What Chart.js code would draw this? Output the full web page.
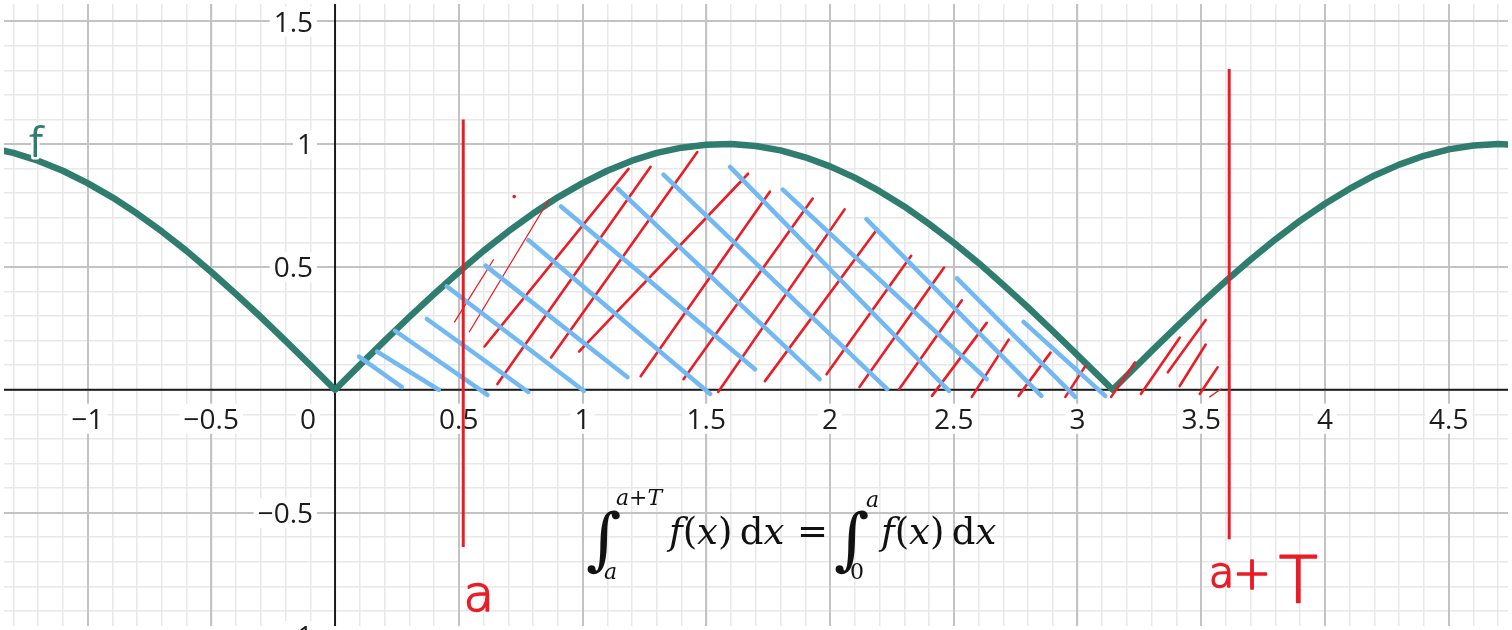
<!DOCTYPE html>
<html>
<head>
<meta charset="utf-8">
<script src="https://cdn.jsdelivr.net/npm/chart.js@4.4.0/dist/chart.umd.min.js"></script>
<style>
  html, body { margin: 0; padding: 0; background: #fff; }
  #wrap { width: 1512px; height: 630px; }
</style>
</head>
<body>
<div id="wrap"><canvas id="graph" width="1512" height="630"></canvas></div>
<script>
// Visible window (graph units)
const xMin = -1.3376, xMax = 4.7395;
const yMin = -0.9614, yMax = 1.5697;

// Tick labels
const xTicks = [-1, -0.5, 0.5, 1, 1.5, 2, 2.5, 3, 3.5, 4, 4.5];
const xTickLabels = ['−1', '−0.5', '0.5', '1', '1.5', '2', '2.5', '3', '3.5', '4', '4.5'];
const yTicks = [1.5, 1, 0.5, -0.5, -1];
const yTickLabels = ['1.5', '1', '0.5', '−0.5', '−1'];

// f
const curveX = [-1.4, -1.3, -1.2, -1.1, -1.0, -0.9, -0.8, -0.7, -0.6, -0.5, -0.4, -0.3, -0.2, -0.1,
  0, 0.1, 0.2, 0.3, 0.4, 0.5, 0.6, 0.7, 0.8, 0.9, 1.0, 1.1, 1.2, 1.3, 1.4, 1.5, 1.6, 1.7, 1.8, 1.9,
  2.0, 2.1, 2.2, 2.3, 2.4, 2.5, 2.6, 2.7, 2.8, 2.9, 3.0, 3.1, 3.142, 3.2, 3.3, 3.4, 3.5, 3.6, 3.7,
  3.8, 3.9, 4.0, 4.1, 4.2, 4.3, 4.4, 4.5, 4.6, 4.7, 4.8];
const curveY = [0.985, 0.964, 0.932, 0.891, 0.841, 0.783, 0.717, 0.644, 0.565, 0.479, 0.389, 0.296, 0.199, 0.100,
  0, 0.100, 0.199, 0.296, 0.389, 0.479, 0.565, 0.644, 0.717, 0.783, 0.841, 0.891, 0.932, 0.964, 0.985, 0.997, 1.000, 0.992, 0.974, 0.946,
  0.909, 0.863, 0.808, 0.746, 0.675, 0.598, 0.516, 0.427, 0.335, 0.239, 0.141, 0.042, 0, 0.058, 0.158, 0.256, 0.351, 0.443, 0.530,
  0.612, 0.688, 0.757, 0.818, 0.872, 0.916, 0.952, 0.978, 0.994, 1.000, 0.996];

// Hand-drawn hatching: [x1, y1, x2, y2]
const blueStrokes = [
  [0.097, 0.135, 0.270, 0.011],
  [0.170, 0.155, 0.419, 0.000],
  [0.242, 0.240, 0.616, -0.021],
  [0.371, 0.288, 0.781, -0.009],
  [0.451, 0.421, 1.006, -0.005],
  [0.608, 0.505, 1.182, 0.051],
  [0.781, 0.609, 1.516, -0.017],
  [0.913, 0.746, 1.697, 0.083],
  [1.142, 0.818, 1.958, 0.043],
  [1.327, 0.875, 2.231, 0.003],
  [1.596, 0.907, 2.481, -0.005],
  [1.809, 0.814, 2.633, 0.043],
  [2.147, 0.694, 2.854, -0.025],
  [2.513, 0.453, 2.991, -0.029],
  [2.782, 0.276, 3.112, -0.025]
];
const redStrokes = [
  [0.483, 0.276, 0.640, 0.529],
  [0.543, 0.236, 0.865, 0.774],
  [0.604, 0.176, 1.186, 0.899],
  [0.656, 0.023, 1.275, 0.907],
  [0.873, 0.131, 1.464, 0.967],
  [0.986, 0.155, 1.669, 0.879],
  [1.235, 0.055, 1.757, 0.806],
  [1.408, 0.043, 1.930, 0.778],
  [1.548, -0.009, 2.059, 0.734],
  [1.737, 0.035, 2.191, 0.654],
  [1.986, 0.063, 2.328, 0.545],
  [2.119, 0.011, 2.461, 0.497],
  [2.280, 0.003, 2.533, 0.364],
  [2.412, -0.025, 2.633, 0.272],
  [2.573, -0.029, 2.722, 0.204],
  [2.762, -0.025, 2.891, 0.151],
  [2.951, -0.029, 3.031, 0.095],
  [3.136, -0.029, 3.232, 0.111],
  [3.256, -0.017, 3.413, 0.212],
  [3.365, 0.071, 3.518, 0.284],
  [3.413, 0.015, 3.518, 0.184],
  [3.494, -0.017, 3.566, 0.091],
  [3.534, -0.029, 3.580, 0.003]
];
const redDot = [0.724, 0.786];

// Marker lines x = a and x = a + T: [x, yBottom, yTop]
const markerLines = [
  [0.518, -0.640, 1.100],
  [3.613, -0.608, 1.305]
];

// Text anchors (graph units)
const fLabelAt = [-1.237, 0.947];
const aLabelAt = [0.519, -0.901];
const aTLabelAt = [3.530, -0.801];
const formulaAt = [1.022, -0.628];

const TEAL = '#2e7d6e';
const RED = '#ea1d26';
const BLUE = '#72b8f2';

function segment(s) {
  return [{ x: s[0], y: s[1] }, { x: s[2], y: s[3] }];
}

const datasets = [];

// Curve f
datasets.push({
  data: curveX.map((x, i) => ({ x, y: curveY[i] })),
  showLine: true, borderColor: TEAL, borderWidth: 6.5, pointRadius: 0,
  borderCapStyle: 'round', borderJoinStyle: 'round', order: 4
});

// Red hatching
redStrokes.forEach((s, i) => {
  const thin = i === 0 || i === 1 || i === redStrokes.length - 1;
  datasets.push({
    data: segment(s), showLine: true, borderColor: RED, borderWidth: thin ? 1.3 : 2.6,
    pointRadius: 0, borderCapStyle: 'round', order: 3
  });
});
datasets.push({
  data: [{ x: redDot[0], y: redDot[1] }], showLine: false,
  pointRadius: 1.8, backgroundColor: RED, borderWidth: 0, order: 3
});

// Blue hatching
blueStrokes.forEach(s => {
  datasets.push({
    data: segment(s), showLine: true, borderColor: BLUE, borderWidth: 4.5,
    pointRadius: 0, borderCapStyle: 'round', order: 2
  });
});

// Red markers a and a+T
markerLines.forEach(m => {
  datasets.push({
    data: [{ x: m[0], y: m[1] }, { x: m[0], y: m[2] }], showLine: true,
    borderColor: RED, borderWidth: 3, pointRadius: 0, order: 1
  });
});

// Axes + tick labels, under the objects
const axesPlugin = {
  id: 'axesPlugin',
  beforeDatasetsDraw(chart) {
    const { ctx, chartArea: a, scales: { x, y } } = chart;
    const x0 = x.getPixelForValue(0), y0 = y.getPixelForValue(0);
    ctx.save();
    ctx.strokeStyle = '#1c1c1c';
    ctx.lineWidth = 2;
    ctx.beginPath();
    ctx.moveTo(a.left, y0); ctx.lineTo(a.right, y0);
    ctx.moveTo(x0, a.top); ctx.lineTo(x0, a.bottom);
    ctx.stroke();

    ctx.font = '28px "Open Sans"';
    ctx.textBaseline = 'alphabetic';
    const label = (text, px, base, align) => {
      const w = ctx.measureText(text).width;
      const left = align === 'right' ? px - w : px - w / 2;
      ctx.fillStyle = '#fff';
      ctx.fillRect(left - 4, base - 25, w + 8, 30);
      ctx.fillStyle = '#1c1c1c';
      ctx.textAlign = align;
      ctx.fillText(text, px, base);
    };
    xTicks.forEach((v, i) => label(xTickLabels[i], x.getPixelForValue(v), y0 + 39, 'center'));
    yTicks.forEach((v, i) => label(yTickLabels[i], x0 - 22, y.getPixelForValue(v) + 10.5, 'right'));
    label('0', x0 - 19, y0 + 39, 'right');
    ctx.restore();
  },
  afterDatasetsDraw(chart) {
    const { ctx, scales: { x, y } } = chart;
    ctx.save();
    ctx.textAlign = 'left';
    ctx.textBaseline = 'alphabetic';

    // label f
    ctx.font = '42px "Open Sans"';
    ctx.lineWidth = 5;
    ctx.strokeStyle = '#fff';
    ctx.lineJoin = 'round';
    const fx = x.getPixelForValue(fLabelAt[0]), fy = y.getPixelForValue(fLabelAt[1]);
    ctx.strokeText('f', fx, fy);
    ctx.fillStyle = TEAL;
    ctx.fillText('f', fx, fy);

    // handwritten a, a+T (thin font, thickened like a pen stroke)
    ctx.fillStyle = RED;
    ctx.strokeStyle = RED;
    ctx.lineWidth = 1.6;
    const pen = (t, px, py, size) => {
      ctx.font = '200 ' + size + 'px "DejaVu Sans"';
      ctx.fillText(t, px, py);
      ctx.strokeText(t, px, py);
    };
    pen('a', x.getPixelForValue(aLabelAt[0]), y.getPixelForValue(aLabelAt[1]), 50);
    const tx = x.getPixelForValue(aTLabelAt[0]), ty = y.getPixelForValue(aTLabelAt[1]);
    pen('a', tx, ty, 42);
    pen('+', tx + 24, ty + 2, 46);
    pen('T', tx + 70, ty + 15, 64);

    // formula
    const ox = x.getPixelForValue(formulaAt[0]), oy = y.getPixelForValue(formulaAt[1]);
    const serif = '"DejaVu Serif"';
    ctx.fillStyle = '#111';
    const run = (pieces, px, py, size) => {
      let cx = px;
      pieces.forEach(([t, it]) => {
        ctx.font = (it ? 'italic ' : '') + size + 'px ' + serif;
        ctx.fillText(t, cx, py);
        cx += ctx.measureText(t).width;
      });
      return cx;
    };
    const fx1 = [['f', true], ['(', false], ['x', true], [')', false], ['\u2009', false], ['d', false], ['x', true]];
    ctx.font = '68px ' + serif;
    ctx.fillText('∫', ox - 2, oy + 18);
    run([['a', true], ['+', false], ['T', true]], ox + 28, oy - 39, 22);
    run([['a', true]], ox + 16, oy + 35, 22);
    run(fx1, ox + 81, oy, 37);
    ctx.font = '37px ' + serif;
    ctx.fillText('=', ox + 209, oy);
    ctx.font = '68px ' + serif;
    ctx.fillText('∫', ox + 246, oy + 18);
    run([['a', true]], ox + 278, oy - 37, 22);
    run([['0', false]], ox + 262, oy + 35, 22);
    run(fx1, ox + 293, oy, 37);
    ctx.restore();
  }
};

function gridScale(axis, min, max, step, color, width, z) {
  return {
    type: 'linear', axis, min, max,
    position: axis === 'x' ? 'bottom' : 'left',
    ticks: { display: false, stepSize: step, includeBounds: false, autoSkip: false },
    grid: { color, lineWidth: width, drawTicks: false, z },
    border: { display: false }
  };
}

new Chart(document.getElementById('graph'), {
  type: 'scatter',
  data: { datasets },
  options: {
    responsive: false,
    animation: false,
    layout: { padding: 0 },
    plugins: { legend: { display: false }, tooltip: { enabled: false } },
    scales: {
      xMinor: gridScale('x', xMin, xMax, 0.1, '#e8e8e8', 1.5, -2),
      yMinor: gridScale('y', yMin, yMax, 0.1, '#e8e8e8', 1.5, -2),
      x: gridScale('x', xMin, xMax, 0.5, '#c3c3c3', 2, -1),
      y: gridScale('y', yMin, yMax, 0.5, '#c3c3c3', 2, -1)
    }
  },
  plugins: [axesPlugin]
});
</script>
</body>
</html>
